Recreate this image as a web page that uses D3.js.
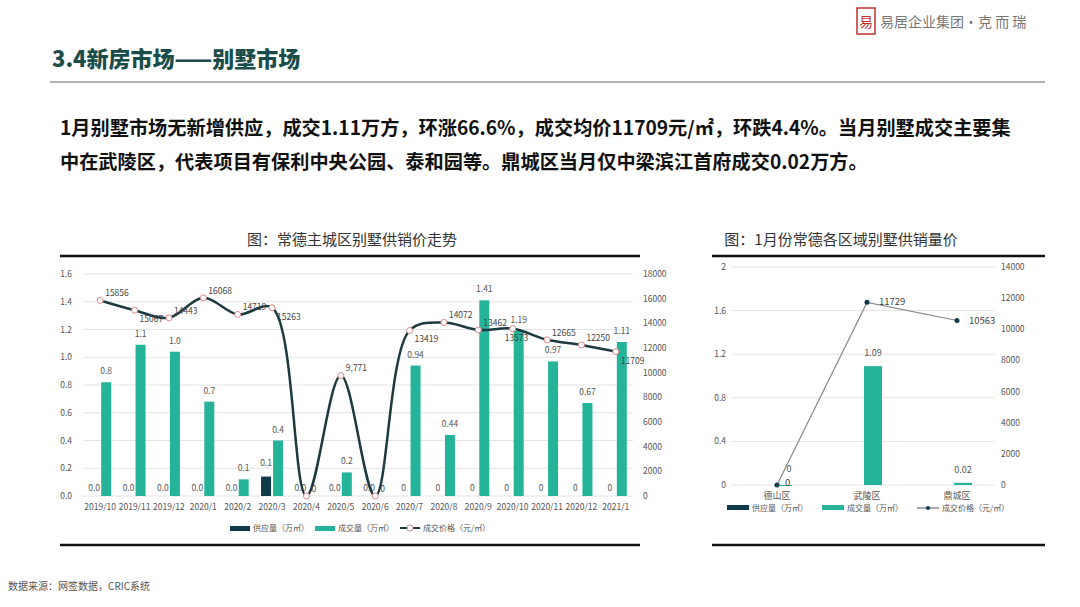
<!DOCTYPE html>
<html><head><meta charset="utf-8">
<script src="https://cdn.jsdelivr.net/npm/d3@7"></script>
<style>body{margin:0;background:#fff;font-family:"Noto Sans CJK SC","Noto Sans",sans-serif}</style>
</head><body><svg id="s" width="1080" height="607"></svg>
<script>
const months=["2019/10","2019/11","2019/12","2020/1","2020/2","2020/3","2020/4","2020/5","2020/6","2020/7","2020/8","2020/9","2020/10","2020/11","2020/12","2021/1"];
const supply=[0,0,0,0,0,0.14,0,0,0,0,0,0,0,0,0,0];
const supplyLabels=["0.0","0.0","0.0","0.0","0.0","0.1","0.0","0.0","0.0","0","0","0","0","0","0","0"];
const deal=[0.82,1.09,1.04,0.68,0.12,0.40,0,0.17,0,0.94,0.44,1.41,1.19,0.97,0.67,1.11];
const dealLabels=["0.8","1.1","1.0","0.7","0.1","0.4","","0.2","","0.94","0.44","1.41","1.19","0.97","0.67","1.11"];
const price=[15856,15067,14443,16068,14719,15263,0,9771,0,13419,14072,13462,13573,12665,12250,11709];
const priceLabels=["15856","15067","14443","16068","14719","15263","0","9,771","0","13419","14072","13462","13573","12665","12250","11709"];
const districts=["德山区","武陵区","鼎城区"];
const dSupply=[0,0,0];
const dDeal=[0,1.09,0.02];
const dPrice=[0,11729,10563];
const leftTicks=[0,0.2,0.4,0.6,0.8,1.0,1.2,1.4,1.6];
const rightTicks=[0,2000,4000,6000,8000,10000,12000,14000,16000,18000];
const rLeftTicks=[0,0.4,0.8,1.2,1.6,2];
const rRightTicks=[0,2000,4000,6000,8000,10000,12000,14000];

const svg=d3.select("#s");
const C1="#0f3a4a",C2="#25b39a";
svg.append("text").attr("x",52).attr("y",67).attr("font-size",22).attr("font-weight",900).attr("fill","#1a4d4a").text("3.4新房市场——别墅市场");
svg.append("line").attr("x1",50).attr("x2",1045).attr("y1",82).attr("y2",82).attr("stroke","#999").attr("stroke-width",1.5);
svg.append("rect").attr("x",857).attr("y",8).attr("width",18).attr("height",26).attr("fill","none").attr("stroke","#c0302a").attr("stroke-width",1.5);
svg.append("text").attr("x",866).attr("y",27).attr("text-anchor","middle").attr("font-size",14).attr("fill","#c0302a").text("易");
svg.append("text").attr("x",880).attr("y",27).attr("font-size",14).attr("fill","#777").text("易居企业集团·克 而 瑞");
const para=["1月别墅市场无新增供应，成交1.11万方，环涨66.6%，成交均价11709元/㎡，环跌4.4%。当月别墅成交主要集","中在武陵区，代表项目有保利中央公园、泰和园等。鼎城区当月仅中梁滨江首府成交0.02万方。"];
para.forEach((t,i)=>svg.append("text").attr("x",60).attr("y",135+i*34).attr("font-size",19.2).attr("font-weight",700).attr("fill","#111").text(t));
svg.append("text").attr("x",352).attr("y",245).attr("text-anchor","middle").attr("font-size",15).attr("fill","#333").text("图：常德主城区别墅供销价走势");
svg.append("text").attr("x",841).attr("y",245).attr("text-anchor","middle").attr("font-size",15).attr("fill","#333").text("图：1月份常德各区域别墅供销量价");
svg.append("text").attr("x",8).attr("y",590).attr("font-size",10).attr("fill","#555").text("数据来源：网签数据，CRIC系统");
[[60,640],[712,1045]].forEach(([a,b])=>{
 svg.append("line").attr("x1",a).attr("x2",b).attr("y1",256).attr("y2",256).attr("stroke","#111").attr("stroke-width",2.5);
 svg.append("line").attr("x1",a).attr("x2",b).attr("y1",545).attr("y2",545).attr("stroke","#111").attr("stroke-width",2.5);
});
const x=d3.scaleBand().domain(months).range([83,633]);
const yL=d3.scaleLinear().domain([0,1.6]).range([496,274]);
const yR=d3.scaleLinear().domain([0,18000]).range([496,274]);
leftTicks.forEach(t=>{
 svg.append("line").attr("x1",83).attr("x2",633).attr("y1",yL(t)).attr("y2",yL(t)).attr("stroke","#e4e4e4");
 svg.append("text").attr("x",72).attr("y",yL(t)+3).attr("text-anchor","end").attr("font-size",8.5).attr("fill","#555").text(t.toFixed(1));
});
rightTicks.forEach(t=>svg.append("text").attr("x",643).attr("y",yR(t)+3).attr("font-size",8.5).attr("fill","#555").text(t));
const bw=10;
months.forEach((m,i)=>{
 const cx=x(m)+x.bandwidth()/2;
 svg.append("rect").attr("x",cx-bw-1).attr("width",bw).attr("y",yL(supply[i])).attr("height",496-yL(supply[i])).attr("fill",C1);
 svg.append("rect").attr("x",cx+1).attr("width",bw).attr("y",yL(deal[i])).attr("height",496-yL(deal[i])).attr("fill",C2);
 svg.append("text").attr("x",cx-6).attr("y",yL(supply[i])-5+(supply[i]?-6:0)).attr("text-anchor","middle").attr("font-size",8.5).attr("fill","#555").text(supplyLabels[i]);
 if(dealLabels[i]) svg.append("text").attr("x",cx+6).attr("y",yL(deal[i])-8).attr("text-anchor","middle").attr("font-size",8.5).attr("fill","#555").text(dealLabels[i]);
 svg.append("text").attr("x",cx).attr("y",510).attr("text-anchor","middle").attr("font-size",8.5).attr("fill","#555").text(m);
});
const px=i=>x(months[i])+x.bandwidth()/2;
svg.append("path").attr("d",d3.line().x((d,i)=>px(i)).y(d=>yR(d)).curve(d3.curveCatmullRom.alpha(0.5))(price)).attr("fill","none").attr("stroke","#1c3a40").attr("stroke-width",2.5);
const below={1:1,5:1,9:1,12:1,15:1};
price.forEach((p,i)=>{
 svg.append("circle").attr("cx",px(i)).attr("cy",yR(p)).attr("r",3).attr("fill","#fff").attr("stroke","#d88");
 svg.append("text").attr("x",px(i)+(i===12?-8:5)).attr("y",yR(p)+(below[i]?12:-4)).attr("font-size",8.5).attr("fill","#444").text(priceLabels[i]);
});
const lg=[[C1,"供应量（万㎡）","rect"],[C2,"成交量（万㎡）","rect"],["#1c3a40","成交价格（元/㎡）","line"]];
lg.forEach((d,i)=>{const lx=230+i*85;
 if(d[2]==="rect") svg.append("rect").attr("x",lx).attr("y",526).attr("width",20).attr("height",5).attr("fill",d[0]);
 else{svg.append("line").attr("x1",lx).attr("x2",lx+20).attr("y1",528).attr("y2",528).attr("stroke",d[0]).attr("stroke-width",2);svg.append("circle").attr("cx",lx+10).attr("cy",528).attr("r",3).attr("fill","#fff").attr("stroke","#d88");}
 svg.append("text").attr("x",lx+23).attr("y",531).attr("font-size",8).attr("fill","#555").text(d[1]);});
const x2=d3.scaleBand().domain(districts).range([732,1002]);
const y2L=d3.scaleLinear().domain([0,2]).range([485,267]);
const y2R=d3.scaleLinear().domain([0,14000]).range([485,267]);
rLeftTicks.forEach(t=>{
 svg.append("line").attr("x1",732).attr("x2",995).attr("y1",y2L(t)).attr("y2",y2L(t)).attr("stroke","#e4e4e4");
 svg.append("text").attr("x",726).attr("y",y2L(t)+3).attr("text-anchor","end").attr("font-size",8.5).attr("fill","#555").text(t);
});
rRightTicks.forEach(t=>svg.append("text").attr("x",1001).attr("y",y2R(t)+3).attr("font-size",8.5).attr("fill","#555").text(t));
const c2=i=>x2(districts[i])+x2.bandwidth()/2;
districts.forEach((d,i)=>{
 svg.append("rect").attr("x",c2(i)-14).attr("width",10).attr("y",y2L(dSupply[i])).attr("height",485-y2L(dSupply[i])).attr("fill",C1);
 svg.append("rect").attr("x",c2(i)-3).attr("width",18).attr("y",y2L(dDeal[i])).attr("height",Math.max(1,485-y2L(dDeal[i]))).attr("fill",C2);
 svg.append("text").attr("x",c2(i)+(i?6:12)).attr("y",y2L(dDeal[i])-(i?10:13)).attr("text-anchor","middle").attr("font-size",9).attr("fill","#555").text(i===0?"0":dDeal[i]);
 svg.append("text").attr("x",c2(i)).attr("y",499).attr("text-anchor","middle").attr("font-size",9).attr("fill","#555").text(d);
});
svg.append("path").attr("d",d3.line().x((d,i)=>c2(i)).y(d=>y2R(d))(dPrice)).attr("fill","none").attr("stroke","#888").attr("stroke-width",1.2);
dPrice.forEach((p,i)=>{svg.append("circle").attr("cx",c2(i)).attr("cy",y2R(p)).attr("r",2.5).attr("fill",C1);
 svg.append("text").attr("x",c2(i)+(i?12:8)).attr("y",y2R(p)+(i?3:1)).attr("font-size",9.5).attr("fill","#444").text(p);});
const lg2=[[C1,"供应量（万㎡）","rect"],[C2,"成交量（万㎡）","rect"],[C1,"成交价格（元/㎡）","line"]];
lg2.forEach((d,i)=>{const lx=727+i*95;
 if(d[2]==="rect") svg.append("rect").attr("x",lx).attr("y",505).attr("width",22).attr("height",5).attr("fill",d[0]);
 else{svg.append("line").attr("x1",lx).attr("x2",lx+22).attr("y1",508).attr("y2",508).attr("stroke","#555");svg.append("circle").attr("cx",lx+11).attr("cy",508).attr("r",2).attr("fill",d[0]);}
 svg.append("text").attr("x",lx+25).attr("y",511).attr("font-size",8).attr("fill","#555").text(d[1]);});
</script></body></html>
